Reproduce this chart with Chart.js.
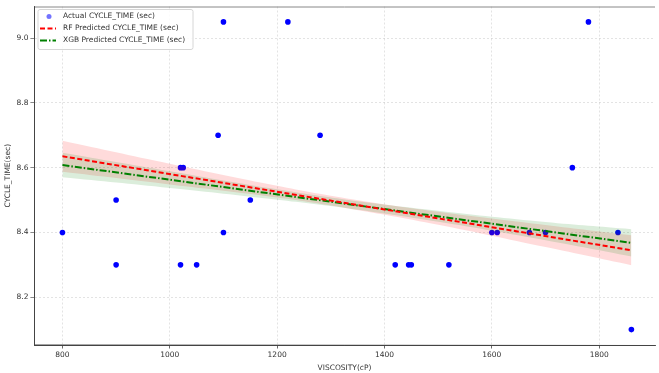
<!DOCTYPE html>
<html lang="en">
<head>
<meta charset="UTF-8">
<title>CYCLE_TIME vs VISCOSITY</title>
<script src="https://cdn.jsdelivr.net/npm/chart.js@4.4.1/dist/chart.umd.min.js"></script>
<style>
  html, body { margin: 0; padding: 0; background: #fff; }
  #wrap { width: 659px; height: 373px; position: relative; }
</style>
</head>
<body>
<div id="wrap"><canvas id="chart"></canvas></div>
<script>
const viscosity = [800, 900, 900, 1020, 1025, 1020, 1050, 1090, 1100, 1100, 1150, 1220, 1280,
  1420, 1445, 1450, 1520, 1600, 1610, 1670, 1700, 1750, 1780, 1835, 1860];
const cycleTime = [8.4, 8.5, 8.3, 8.6, 8.6, 8.3, 8.3, 8.7, 9.05, 8.4, 8.5, 9.05, 8.7,
  8.3, 8.3, 8.3, 8.3, 8.4, 8.4, 8.4, 8.4, 8.6, 9.05, 8.4, 8.1];

// Fitted trend lines (end points)
const lineX = [800, 1860];
const rfLine = [8.635, 8.345];
const xgbLine = [8.608, 8.368];

// Confidence bands
const bandX = [800, 1000, 1200, 1330, 1500, 1700, 1860];
const rfUpper = [8.683, 8.612, 8.544, 8.505, 8.464, 8.423, 8.391];
const rfLower = [8.587, 8.548, 8.508, 8.475, 8.424, 8.355, 8.299];
const xgbUpper = [8.646, 8.589, 8.533, 8.501, 8.467, 8.432, 8.410];
const xgbLower = [8.570, 8.537, 8.501, 8.475, 8.433, 8.376, 8.326];

// Axis ticks
const xTicks = [800, 1000, 1200, 1400, 1600, 1800];
const yTicks = [8.2, 8.4, 8.6, 8.8, 9.0];

const FONT = 'DejaVu Sans';
const FONT_SIZE = 7.5;
const TEXT = '#333';

const toPoints = (xs, ys) => xs.map((x, i) => ({ x, y: ys[i] }));

// Legend entries drawn by the plugin below
const legendItems = [
  { label: 'Actual CYCLE_TIME (sec)', type: 'point', color: 'rgba(0,0,255,0.55)' },
  { label: 'RF Predicted CYCLE_TIME (sec)', type: 'line', color: '#ff0000', dash: [5, 2.5] },
  { label: 'XGB Predicted CYCLE_TIME (sec)', type: 'line', color: '#008000', dash: [7, 2, 1.5, 2] },
];

/**
 * Draws a matplotlib-like legend box in the upper left of the plot area
 */
const boxLegend = {
  id: 'boxLegend',
  afterDatasetsDraw(chart) {
    const { ctx, chartArea } = chart;
    const x0 = chartArea.left + 4;
    const y0 = chartArea.top + 3;
    const w = 155;
    const h = 40;
    ctx.save();
    ctx.beginPath();
    ctx.roundRect(x0, y0, w, h, 2);
    ctx.fillStyle = 'rgba(255,255,255,0.85)';
    ctx.fill();
    ctx.strokeStyle = '#d6d6d6';
    ctx.lineWidth = 1;
    ctx.stroke();

    ctx.font = `${FONT_SIZE}px "${FONT}"`;
    ctx.textBaseline = 'middle';
    legendItems.forEach((item, i) => {
      const cy = y0 + 7 + i * 12;
      if (item.type === 'point') {
        ctx.beginPath();
        ctx.arc(x0 + 11, cy, 2.5, 0, Math.PI * 2);
        ctx.fillStyle = item.color;
        ctx.fill();
      } else {
        ctx.beginPath();
        ctx.setLineDash(item.dash);
        ctx.strokeStyle = item.color;
        ctx.lineWidth = 2;
        ctx.moveTo(x0 + 2, cy);
        ctx.lineTo(x0 + 18, cy);
        ctx.stroke();
        ctx.setLineDash([]);
      }
      ctx.fillStyle = TEXT;
      ctx.fillText(item.label, x0 + 25, cy);
    });
    ctx.restore();
  },
};

const gridOpts = {
  color: 'rgba(0,0,0,0.14)',
  lineWidth: 0.8,
  tickColor: '#444',
  tickLength: 3.5,
  tickBorderDash: [1, 0],
};

// in v4 the grid line dash lives under border.dash
const borderOpts = { display: true, color: '#444', width: 1, dash: [2, 2] };

new Chart(document.getElementById('chart'), {
  type: 'scatter',
  data: {
    datasets: [
      {
        label: 'Actual CYCLE_TIME (sec)',
        data: toPoints(viscosity, cycleTime),
        backgroundColor: '#0000ff',
        borderWidth: 0,
        pointRadius: 2.8,
        order: 10,
      },
      {
        label: 'RF upper',
        data: toPoints(bandX, rfUpper),
        showLine: true,
        tension: 0.4,
        pointRadius: 0,
        borderWidth: 0,
        backgroundColor: 'rgba(255,0,0,0.14)',
        fill: '+1',
        order: 6,
      },
      {
        label: 'RF lower',
        data: toPoints(bandX, rfLower),
        showLine: true,
        tension: 0.4,
        pointRadius: 0,
        borderWidth: 0,
        fill: false,
        order: 6,
      },
      {
        label: 'XGB upper',
        data: toPoints(bandX, xgbUpper),
        showLine: true,
        tension: 0.4,
        pointRadius: 0,
        borderWidth: 0,
        backgroundColor: 'rgba(0,128,0,0.14)',
        fill: '+1',
        order: 5,
      },
      {
        label: 'XGB lower',
        data: toPoints(bandX, xgbLower),
        showLine: true,
        tension: 0.4,
        pointRadius: 0,
        borderWidth: 0,
        fill: false,
        order: 5,
      },
      {
        label: 'XGB Predicted CYCLE_TIME (sec)',
        data: toPoints(lineX, xgbLine),
        showLine: true,
        pointRadius: 0,
        borderColor: '#008000',
        borderWidth: 2,
        borderDash: [7, 2, 1.5, 2],
        fill: false,
        order: 2,
      },
      {
        label: 'RF Predicted CYCLE_TIME (sec)',
        data: toPoints(lineX, rfLine),
        showLine: true,
        pointRadius: 0,
        borderColor: '#ff0000',
        borderWidth: 2,
        borderDash: [5, 2.5],
        fill: false,
        order: 1,
      },
    ],
  },
  options: {
    responsive: true,
    maintainAspectRatio: false,
    animation: false,
    layout: { padding: { top: 5, left: 0, right: 0, bottom: 0 } },
    plugins: {
      legend: { display: false },
      tooltip: { enabled: false },
    },
    scales: {
      x: {
        type: 'linear',
        min: 747,
        max: 1904,
        afterBuildTicks: (scale) => { scale.ticks = xTicks.map((v) => ({ value: v })); },
        afterFit: (scale) => { scale.height = 28; },
        grid: gridOpts,
        border: borderOpts,
        ticks: {
          color: TEXT,
          padding: 2,
          maxRotation: 0,
          font: { family: FONT, size: FONT_SIZE },
          callback: (v) => String(v),
        },
        title: {
          display: true,
          text: 'VISCOSITY(cP)',
          color: TEXT,
          padding: { top: 1, bottom: 0 },
          font: { family: FONT, size: FONT_SIZE },
        },
      },
      y: {
        type: 'linear',
        min: 8.0525,
        max: 9.0975,
        afterBuildTicks: (scale) => { scale.ticks = yTicks.map((v) => ({ value: v })); },
        afterFit: (scale) => { scale.width = 34; },
        grid: gridOpts,
        border: borderOpts,
        ticks: {
          color: TEXT,
          padding: 2,
          font: { family: FONT, size: FONT_SIZE },
          callback: (v) => Number(v).toFixed(1),
        },
        title: {
          display: true,
          text: 'CYCLE_TIME(sec)',
          color: TEXT,
          padding: { top: 4, bottom: 0 },
          font: { family: FONT, size: FONT_SIZE },
        },
      },
    },
  },
  plugins: [
    boxLegend,
    {
      // solid axis spines (bottom/left) and a thin top spine like the reference
      id: 'spines',
      afterDraw(chart) {
        const { ctx, chartArea } = chart;
        ctx.save();
        ctx.lineWidth = 1;
        ctx.strokeStyle = '#888';
        ctx.beginPath();
        ctx.moveTo(chartArea.left, chartArea.top + 0.5);
        ctx.lineTo(chartArea.right, chartArea.top + 0.5);
        ctx.stroke();
        ctx.strokeStyle = '#444';
        ctx.beginPath();
        ctx.moveTo(chartArea.left + 0.5, chartArea.top);
        ctx.lineTo(chartArea.left + 0.5, chartArea.bottom);
        ctx.lineTo(chartArea.right, chartArea.bottom + 0.5);
        ctx.stroke();
        ctx.restore();
      },
    },
  ],
});
</script>
</body>
</html>
